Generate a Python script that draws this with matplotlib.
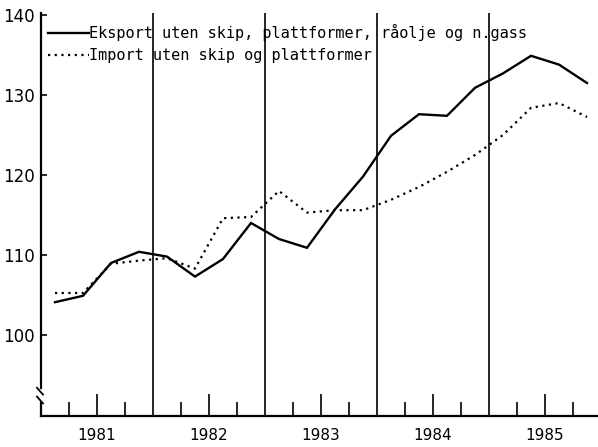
import matplotlib

matplotlib.use("Agg")

import matplotlib.pyplot as plt  # noqa: E402

# Quarterly volume indices, 1981 Q1 - 1985 Q4.
years = [1981, 1982, 1983, 1984, 1985]
quarters = [(y, q) for y in years for q in (1, 2, 3, 4)]

export_idx = [104.1, 104.9, 109.0, 110.4, 109.8, 107.3, 109.5, 114.0, 112.0, 110.9,
              115.7, 119.8, 124.9, 127.6, 127.4, 130.9, 132.7, 134.9, 133.8, 131.5]
import_idx = [105.25, 105.25, 108.9, 109.3, 109.6, 108.3, 114.6, 114.75, 118.0, 115.3,
              115.6, 115.6, 116.9, 118.5, 120.4, 122.5, 125.0, 128.4, 129.0, 127.25]

export_label = "Eksport uten skip, plattformer, råolje og n.gass"
import_label = "Import uten skip og plattformer"

y_ticks = [100, 110, 120, 130, 140]

# plot each quarter at its midpoint
x = [y + (q - 0.5) / 4 for y, q in quarters]

fig = plt.figure(figsize=(5.98, 4.47), dpi=100)
ax = fig.add_axes([41 / 598, 31 / 447, 557 / 598, 403 / 447])

ax.plot(x, export_idx, color="black", linewidth=1.7, solid_joinstyle="miter", label=export_label)
ax.plot(x, import_idx, color="black", linewidth=1.6, linestyle=(0, (1, 2)), label=import_label)

# year boundaries
for y in years[1:]:
    ax.axvline(y, color="black", linewidth=1.2)

ax.set_xlim(1981.0, 1981 + 557 / 112)
ax.set_ylim(89.875, 140.25)

ax.set_xticks([y + 0.5 for y in years])
ax.set_xticklabels([str(y) for y in years], fontsize=11)
ax.set_xticks([y + f for y in years for f in (0.25, 0.75)], minor=True)
ax.tick_params(axis="x", which="major", direction="in", length=15.8, width=1.2, pad=9)
ax.tick_params(axis="x", which="minor", direction="in", length=10, width=1.2)

ax.set_yticks(y_ticks)
ax.set_yticklabels([str(v) for v in y_ticks], fontsize=12)
ax.tick_params(axis="y", direction="in", length=4.3, width=1.2, pad=4.5)

for side in ("top", "right"):
    ax.spines[side].set_visible(False)
ax.spines["bottom"].set_linewidth(1.6)
ax.spines["left"].set_linewidth(1.6)
ax.spines["left"].set_bounds(93.4, 140.25)

# broken value axis near the bottom
ax.plot([1981.0, 1981.0], [89.875, 91.5], color="black", linewidth=1.6, clip_on=False)
for y_top in (93.4, 92.3):
    ax.plot([1980.964, 1981.018], [y_top, y_top - 0.85], color="black", linewidth=1.3,
            clip_on=False)

ax.legend(loc="upper left", bbox_to_anchor=(0.012, 0.972), frameon=False,
          prop={"family": "DejaVu Sans Mono", "size": 11}, handlelength=2.7,
          handletextpad=0.0, labelspacing=0.46, borderpad=0, borderaxespad=0)

fig.savefig("out.png", dpi=100)
